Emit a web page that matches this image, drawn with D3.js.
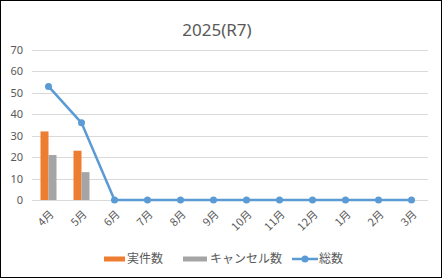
<!DOCTYPE html>
<html><head><meta charset="utf-8">
<script src="https://cdn.jsdelivr.net/npm/d3@7"></script>
<style>body{margin:0;background:#fff}svg{display:block}text{font-family:"Noto Sans CJK JP","Noto Sans",sans-serif}</style>
</head><body><svg id="c" width="443" height="279"></svg>
<script>
const title = "2025(R7)";
const months = ["4月","5月","6月","7月","8月","9月","10月","11月","12月","1月","2月","3月"];
const actual = [32, 23, null, null, null, null, null, null, null, null, null, null];
const cancel = [21, 13, null, null, null, null, null, null, null, null, null, null];
const total = [53, 36, 0, 0, 0, 0, 0, 0, 0, 0, 0, 0];
const yTicks = [0, 10, 20, 30, 40, 50, 60, 70];
const seriesNames = ["実件数", "キャンセル数", "総数"];
const colors = ["#ED7D31", "#A5A5A5", "#5B9BD5"];

const svg = d3.select("#c");
svg.append("rect").attr("x",0.5).attr("y",0.5).attr("width",441).attr("height",277)
  .attr("fill","#fff").attr("stroke","#000").attr("stroke-width",1);

const x = d3.scaleBand().domain(months).range([32, 428]);
const y = d3.scaleLinear().domain([0, 70]).range([200, 50]);

svg.append("text").attr("x", 217).attr("y", 36).attr("text-anchor","middle")
  .attr("font-size", 17).attr("fill","#595959")
  .style("font-family","'Noto Sans',sans-serif").text(title);

// grid
svg.append("g").selectAll("line").data(yTicks).join("line")
  .attr("x1", 32).attr("x2", 428)
  .attr("y1", d => Math.round(y(d)) + 0.5).attr("y2", d => Math.round(y(d)) + 0.5)
  .attr("stroke", "#D9D9D9").attr("stroke-width", 1);

// y axis labels
const yAxis = d3.axisLeft(y).tickValues(yTicks).tickSize(0).tickPadding(0);
const ya = svg.append("g").attr("transform","translate(23,0)").call(yAxis);
ya.select(".domain").remove();
ya.selectAll("text").attr("font-size", 11).attr("fill","#595959")
  .style("font-family","'Noto Sans','Noto Sans CJK JP',sans-serif");

// bars
const bw = 8;
const barG = svg.append("g");
[actual, cancel].forEach((arr, si) => {
  barG.selectAll(null).data(arr.map((v,i)=>({v, m: months[i]})).filter(d => d.v != null)).join("rect")
    .attr("x", d => x(d.m) + x.bandwidth()/2 - bw + si*bw)
    .attr("y", d => y(d.v))
    .attr("width", bw)
    .attr("height", d => y(0) - y(d.v))
    .attr("fill", colors[si]);
});

// line
const pts = total.map((v,i)=>({v, m: months[i]}));
const line = d3.line().x(d => x(d.m) + x.bandwidth()/2).y(d => y(d.v));
svg.append("path").datum(pts).attr("d", line).attr("fill","none")
  .attr("stroke", colors[2]).attr("stroke-width", 2.5).attr("stroke-linejoin","round");
svg.append("g").selectAll("circle").data(pts).join("circle")
  .attr("cx", d => x(d.m) + x.bandwidth()/2).attr("cy", d => y(d.v)).attr("r", 3.5)
  .attr("fill", colors[2]);

// x labels
const xAxis = d3.axisBottom(x).tickSize(0).tickPadding(0);
const xa = svg.append("g").attr("transform","translate(0,200)").call(xAxis);
xa.select(".domain").remove();
xa.selectAll("text").attr("font-size", 11).attr("fill","#595959")
  .attr("text-anchor","end").attr("dy", null).attr("y", 0)
  .attr("transform", "translate(6,15) rotate(-45)");

// legend
const lg = svg.append("g");
const ly = 259;
lg.append("rect").attr("x",104).attr("y",ly-2.5).attr("width",21).attr("height",5).attr("fill",colors[0]);
lg.append("text").attr("x",127).attr("y",ly+4).attr("font-size",12).attr("fill","#595959").text(seriesNames[0]);
lg.append("rect").attr("x",183).attr("y",ly-2.5).attr("width",24).attr("height",5).attr("fill",colors[1]);
lg.append("text").attr("x",210).attr("y",ly+4).attr("font-size",12).attr("fill","#595959").text(seriesNames[1]);
lg.append("line").attr("x1",292).attr("x2",318).attr("y1",ly).attr("y2",ly).attr("stroke",colors[2]).attr("stroke-width",2.5);
lg.append("circle").attr("cx",305).attr("cy",ly).attr("r",3.5).attr("fill",colors[2]);
lg.append("text").attr("x",319).attr("y",ly+4).attr("font-size",12).attr("fill","#595959").text(seriesNames[2]);
</script></body></html>
